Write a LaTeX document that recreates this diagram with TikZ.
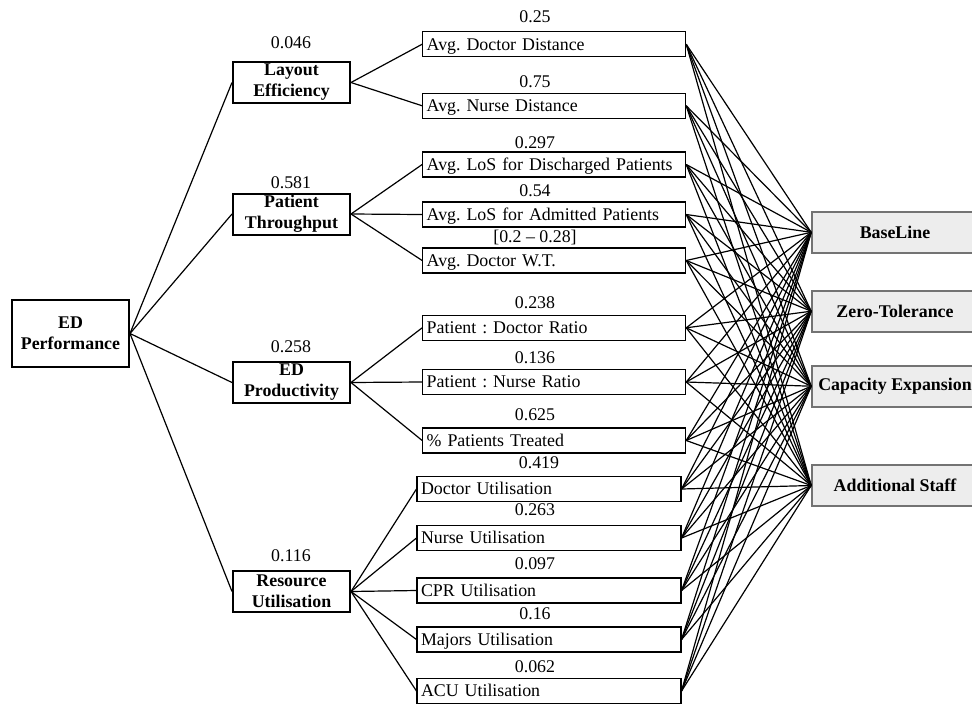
\documentclass[tikz,border=0pt]{standalone}
\usepackage{fontspec}
\setmainfont{Liberation Serif}
\frenchspacing
\begin{document}
\begin{tikzpicture}[x=0.75pt,y=-0.75pt,
  basefont/.style={font=\fontsize{13.4}{15.5}\selectfont\frenchspacing},
  goalbox/.style={draw, line width=1.5pt, minimum width=87.75pt, minimum height=50.25pt,
    inner sep=0pt, align=center, font=\fontsize{13.4}{15.8}\selectfont\bfseries},
  critbox/.style={draw, line width=1.5pt, minimum width=87.75pt, minimum height=30.75pt,
    inner sep=0pt, align=center, font=\fontsize{13.4}{15.8}\selectfont\bfseries},
  subbox/.style={draw, line width=0.8pt, text width=191.25pt, inner xsep=3pt, inner ysep=0pt,
    minimum height=18.75pt, text height=10pt, text depth=1.3pt, align=left, basefont},
  subboxb/.style={subbox, text width=192pt},
  altbox/.style={draw=black!55, fill=black!7, line width=1.2pt, minimum width=124.5pt,
    minimum height=30.75pt, inner sep=0pt, font=\fontsize{13.4}{15.5}\selectfont\bfseries},
  weight/.style={inner sep=0pt, text height=8.9pt, text depth=0pt, basefont},
  link/.style={line width=0.9pt}
]
\path[use as bounding box, clip] (0,0) rectangle (972,704);

% goal
\node[goalbox] (goal) at (70.5,333.5) {ED\\Performance};

% criteria with their weights
\node[critbox] (layout) at (291.5,82.5) {Layout\\Efficiency};
\node[critbox] (thru)   at (291.5,214)  {Patient\\Throughput};
\node[critbox] (prod)   at (291.5,382.5) {ED\\Productivity};
\node[critbox] (res)    at (291.5,591.5) {Resource\\Utilisation};
\node[weight] (w-layout) at (291,43)  {0.046};
\node[weight] (w-thru)   at (291,183) {0.581};
\node[weight] (w-prod)   at (291,347) {0.258};
\node[weight] (w-res)    at (291,556) {0.116};

% sub-criteria
\node[subbox] (dd) at (554.2,44.2)  {Avg. Doctor Distance};
\node[subbox] (nd) at (554.2,105.8) {Avg. Nurse Distance};
\node[subbox] (ld) at (554.2,164.5) {Avg. LoS for Discharged Patients};
\node[subbox] (la) at (554.2,214.5) {Avg. LoS for Admitted Patients};
\node[subbox] (dw) at (554.2,260.5) {Avg. Doctor W.T.};
\node[subbox] (pd) at (554.2,327.8) {Patient : Doctor Ratio};
\node[subbox] (pn) at (554.2,382)   {Patient : Nurse Ratio};
\node[subbox] (pt) at (554.2,440.5) {\% Patients Treated};
\node[subboxb] (du) at (549,489)   {Doctor Utilisation};
\node[subboxb] (nu) at (549,538)   {Nurse Utilisation};
\node[subboxb] (cu) at (549,590.5) {CPR Utilisation};
\node[subboxb] (mu) at (549,639.5) {Majors Utilisation};
\node[subboxb] (au) at (549,691)   {ACU Utilisation};

% sub-criteria weights
\node[weight] (w-dd) at (535,17)  {0.25};
\node[weight] (w-nd) at (535,82)  {0.75};
\node[weight] (w-ld) at (535,143) {0.297};
\node[weight] (w-la) at (535,191) {0.54};
\node[weight] (w-dw) at (535,237) {[0.2 -- 0.28]};
\node[weight] (w-pd) at (535,303) {0.238};
\node[weight] (w-pn) at (535,358) {0.136};
\node[weight] (w-pt) at (535,415) {0.625};
\node[weight] (w-du) at (539,463) {0.419};
\node[weight] (w-nu) at (535,510) {0.263};
\node[weight] (w-cu) at (535,564) {0.097};
\node[weight] (w-mu) at (535,614) {0.16};
\node[weight] (w-au) at (535,667) {0.062};

% alternatives
\node[altbox] (bl) at (895,232.3) {BaseLine};
\node[altbox] (zt) at (895,311.2) {Zero-Tolerance};
\node[altbox] (ce) at (895,386.2) {Capacity Expansion};
\node[altbox] (as) at (895,485.5) {Additional Staff};

% goal to criteria
\foreach \c in {layout,thru,prod,res}
  \draw[link] (goal.east) -- (\c.west);

% criteria to sub-criteria
\foreach \s in {dd,nd} \draw[link] (layout.east) -- (\s.west);
\foreach \s in {ld,la,dw} \draw[link] (thru.east) -- (\s.west);
\foreach \s in {pd,pn,pt} \draw[link] (prod.east) -- (\s.west);
\foreach \s in {du,nu,cu,mu,au} \draw[link] (res.east) -- (\s.west);

% sub-criteria to alternatives
\foreach \s in {dd,nd,ld,la,dw,pd,pn,pt,du,nu,cu,mu,au}
  \foreach \a in {bl,zt,ce,as}
    \draw[link] (\s.east) -- (\a.west);
\end{tikzpicture}
\end{document}
